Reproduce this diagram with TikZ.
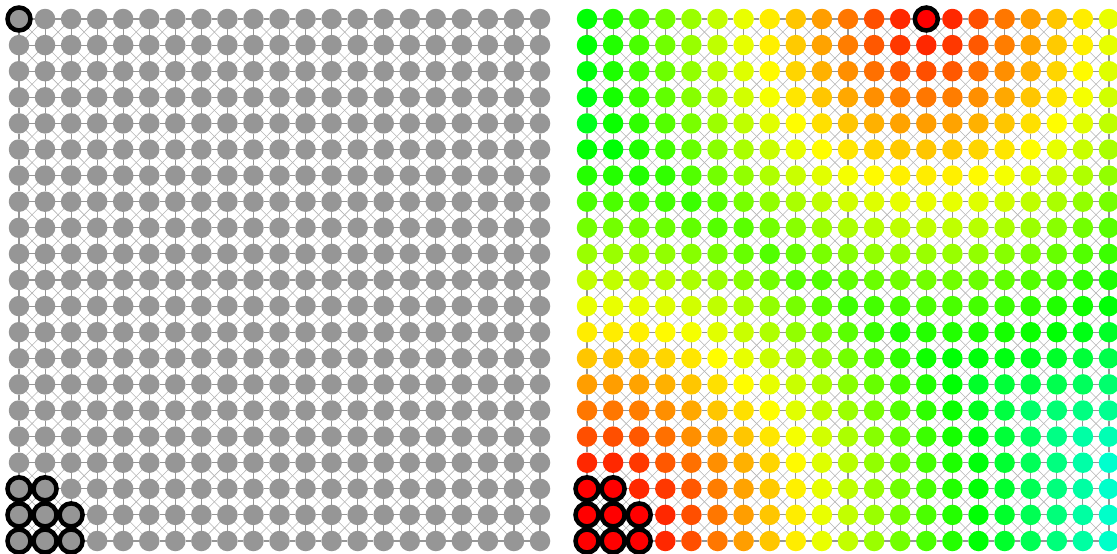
\documentclass[tikz,border=0pt]{standalone}
\pgfdeclarelayer{bg}
\pgfsetlayers{bg,main}
\definecolor{grayfill}{RGB}{150,150,150}
\definecolor{orthoc}{RGB}{150,150,150}
\definecolor{diagc}{RGB}{180,180,180}
\tikzset{
  nd/.style={circle, inner sep=0pt, outer sep=0pt, minimum size=20.5pt, draw=none},
  mk/.style={circle, inner sep=0pt, outer sep=0pt, minimum size=23pt, draw=black, line width=4.5pt},
  ortho/.style={draw=orthoc, line width=1.1pt},
  diag/.style={draw=diagc, line width=0.6pt}
}
\begin{document}
\begin{tikzpicture}[x=1pt,y=-1pt]
\path[use as bounding box] (0,0) rectangle (1117,554);
% left panel nodes
\foreach \c in {0,...,20}{
  \foreach \r in {0,...,20}{
    \pgfmathsetmacro\X{19+26.05*\c}
    \pgfmathsetmacro\Y{19+26.1*\r}
    \pgfmathtruncatemacro\m{(\r>17)*(\c<3)*(1-(\r==18)*(\c==2)) + (\c==0)*(\r==0)}
    \ifnum\m=1
      \node[mk, fill=grayfill] (L-\c-\r) at (\X,\Y) {};
    \else
      \node[nd, fill=grayfill] (L-\c-\r) at (\X,\Y) {};
    \fi
  }
}
% right panel nodes
\foreach \c in {0,...,20}{
  \foreach \r in {0,...,20}{
    \pgfmathsetmacro\X{587+26.1*\c}
    \pgfmathsetmacro\Y{19+26.1*\r}
    \pgfmathsetmacro\d{min(veclen(\c-13,\r), veclen(\c,\r-18), veclen(\c-1,\r-18), veclen(\c,\r-19), veclen(\c-1,\r-19), veclen(\c-2,\r-19), veclen(\c,\r-20), veclen(\c-1,\r-20), veclen(\c-2,\r-20))}
    \pgfmathsetmacro\h{min(9.3*\d,175)}
    \pgfmathsetmacro\cr{min(1,max(0,(120-\h)/60))}
    \pgfmathsetmacro\cg{min(1,\h/60)}
    \pgfmathsetmacro\cb{max(0,(\h-120)/60)}
    \definecolor{nc}{rgb}{\cr,\cg,\cb}
    \pgfmathtruncatemacro\m{(\r>17)*(\c<3)*(1-(\r==18)*(\c==2)) + (\c==13)*(\r==0)}
    \ifnum\m=1
      \node[mk, fill=nc] (R-\c-\r) at (\X,\Y) {};
    \else
      \node[nd, fill=nc] (R-\c-\r) at (\X,\Y) {};
    \fi
  }
}
% edges
\begin{pgfonlayer}{bg}
\foreach \p in {L,R}{
  \foreach \c in {0,...,20}{
    \foreach \r in {0,...,20}{
      \pgfmathtruncatemacro\cn{\c+1}
      \pgfmathtruncatemacro\rn{\r+1}
      \ifnum\c<20
        \draw[ortho] (\p-\c-\r) -- (\p-\cn-\r);
      \fi
      \ifnum\r<20
        \draw[ortho] (\p-\c-\r) -- (\p-\c-\rn);
      \fi
      \ifnum\c<20 \ifnum\r<20
        \draw[diag] (\p-\c-\r) -- (\p-\cn-\rn);
        \draw[diag] (\p-\cn-\r) -- (\p-\c-\rn);
      \fi\fi
    }
  }
}
\end{pgfonlayer}
\end{tikzpicture}
\end{document}
